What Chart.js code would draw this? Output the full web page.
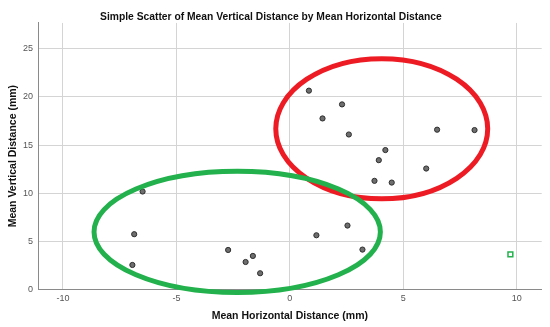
<!DOCTYPE html>
<html>
<head>
<meta charset="utf-8">
<script src="https://cdn.jsdelivr.net/npm/chart.js@4/dist/chart.umd.min.js"></script>
<style>
html,body{margin:0;padding:0;background:#fff;}
#wrap{width:550px;height:327px;position:relative;}
</style>
</head>
<body>
<div id="wrap"><canvas id="c" width="550" height="327"></canvas></div>
<script>
// Data
const horizontal = [-6.49, -6.86, -6.94, -2.72, -1.63, -1.95, -1.31,
  0.84, 2.30, 1.44, 2.60, 6.49, 8.14, 4.21, 3.92, 6.01, 3.73, 4.49,
  1.17, 2.54, 3.20];
const vertical = [10.17, 5.73, 2.53, 4.09, 3.47, 2.84, 1.67,
  20.66, 19.23, 17.77, 16.10, 16.60, 16.56, 14.48, 13.43, 12.56, 11.28, 11.10,
  5.62, 6.63, 4.13];
const outlierX = [9.72];
const outlierY = [3.64];
const xTicks = [-10, -5, 0, 5, 10];
const yTicks = [0, 5, 10, 15, 20, 25];
// Hand-drawn cluster ellipses (data units)
const ellipseCx = [4.05, -2.32];
const ellipseCy = [16.7, 5.97];
const ellipseRx = [4.67, 6.31];
const ellipseRy = [7.29, 6.30];
const ellipseColor = ['#ed1c24', '#22b14c'];

const pts = horizontal.map((x, i) => ({x: x, y: vertical[i]}));
const outPts = outlierX.map((x, i) => ({x: x, y: outlierY[i]}));

const ellipsePlugin = {
  id: 'ellipses',
  afterDatasetsDraw(chart) {
    const ctx = chart.ctx;
    const xs = chart.scales.x, ys = chart.scales.y;
    ctx.save();
    for (let i = 0; i < ellipseCx.length; i++) {
      const cx = xs.getPixelForValue(ellipseCx[i]);
      const cy = ys.getPixelForValue(ellipseCy[i]);
      const rx = Math.abs(xs.getPixelForValue(ellipseCx[i] + ellipseRx[i]) - cx);
      const ry = Math.abs(ys.getPixelForValue(ellipseCy[i] + ellipseRy[i]) - cy);
      ctx.beginPath();
      ctx.ellipse(cx, cy, rx, ry, 0, 0, Math.PI * 2);
      ctx.strokeStyle = ellipseColor[i];
      ctx.lineWidth = 5;
      ctx.stroke();
    }
    ctx.restore();
  }
};

Chart.defaults.font.family = "'Liberation Sans', Arial, sans-serif";

new Chart(document.getElementById('c'), {
  type: 'scatter',
  data: {
    datasets: [
      {
        data: pts,
        pointStyle: 'circle',
        pointRadius: 2.6,
        pointHoverRadius: 2.6,
        backgroundColor: '#6e6e6e',
        borderColor: '#2e2e2e',
        borderWidth: 1
      },
      {
        data: outPts,
        pointStyle: 'rect',
        pointRadius: 3.4,
        pointHoverRadius: 3.4,
        backgroundColor: '#ffffff',
        borderColor: '#22b14c',
        borderWidth: 1.5
      }
    ]
  },
  options: {
    responsive: false,
    animation: false,
    layout: {padding: {left: 0, right: 8.3, top: 0, bottom: 0}},
    plugins: {
      legend: {display: false},
      tooltip: {enabled: false},
      title: {
        display: true,
        text: 'Simple Scatter of Mean Vertical Distance by Mean Horizontal Distance',
        color: '#111',
        font: {size: 10.3, weight: 'bold'},
        padding: {top: 10.6, bottom: 0}
      }
    },
    scales: {
      x: {
        type: 'linear',
        min: -11.1,
        max: 11.1,
        afterBuildTicks(scale) { scale.ticks = xTicks.map(v => ({value: v})); },
        afterFit(scale) { scale.height = 37.7; },
        ticks: {color: '#555', font: {size: 9}, padding: 4, maxRotation: 0},
        grid: {color: '#d4d4d4', drawTicks: false},
        border: {display: true, color: '#8a8a8a', width: 1},
        title: {
          display: true,
          text: 'Mean Horizontal Distance (mm)',
          color: '#111',
          font: {size: 10.5, weight: 'bold'},
          padding: {top: 0, bottom: 5}
        }
      },
      y: {
        type: 'linear',
        min: 0,
        max: 27.7,
        afterBuildTicks(scale) { scale.ticks = yTicks.map(v => ({value: v})); },
        afterFit(scale) { scale.width = 38; },
        ticks: {color: '#555', font: {size: 9}, padding: 5},
        grid: {color: '#d4d4d4', drawTicks: false},
        border: {display: true, color: '#8a8a8a', width: 1},
        title: {
          display: true,
          text: 'Mean Vertical Distance (mm)',
          color: '#111',
          font: {size: 10.5, weight: 'bold'},
          padding: {top: 6.7, bottom: 0}
        }
      }
    }
  },
  plugins: [ellipsePlugin]
});
</script>
</body>
</html>
